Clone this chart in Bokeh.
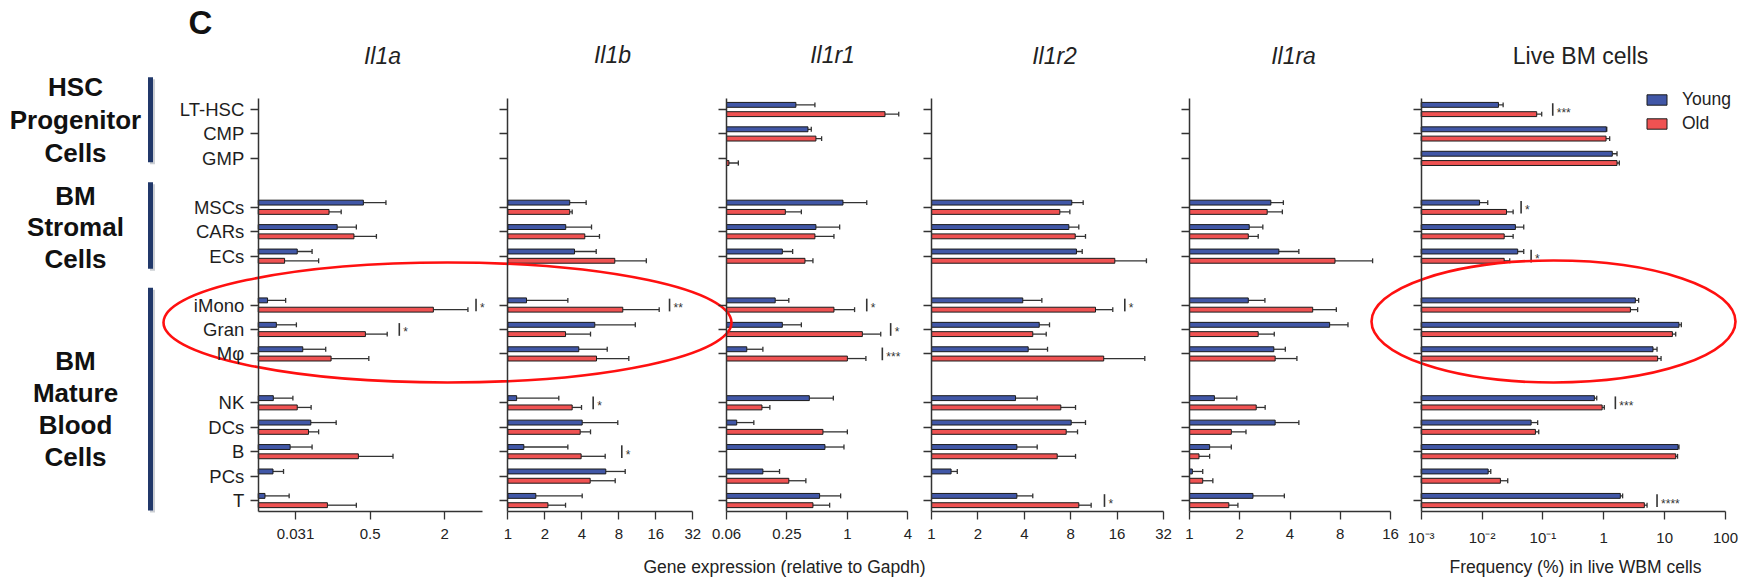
import math
from bokeh.plotting import figure
from bokeh.models import (Range1d, LogScale, LogAxis, LinearAxis, FixedTicker,
                          ColumnDataSource, Legend, LegendItem)
from bokeh.core.properties import value
from bokeh.embed import file_html
from bokeh.resources import INLINE

# ---------------------------------------------------------------- data
categories = ["LT-HSC", "CMP", "GMP", "MSCs", "CARs", "ECs",
              "iMono", "Gran", "Mφ", "NK", "DCs", "B", "PCs", "T"]
category_group = [0, 0, 0, 1, 1, 1, 2, 2, 2, 3, 3, 3, 3, 3]
group_labels = [["HSC", "Progenitor", "Cells"],
                ["BM", "Stromal", "Cells"],
                ["BM", "Mature", "Blood", "Cells"]]
series_names = ["Young", "Old"]
N = None

il1a_young = [N, N, N, 0.441, 0.271, 0.129, 0.0743, 0.0875, 0.143, 0.0827, 0.166, 0.113, 0.0822, 0.0708]
il1a_young_err = [N, N, N, 0.671, 0.387, 0.170, 0.104, 0.127, 0.219, 0.119, 0.266, 0.170, 0.100, 0.111]
il1a_old = [N, N, N, 0.233, 0.370, 0.102, 1.62, 0.458, 0.242, 0.129, 0.159, 0.402, N, 0.226]
il1a_old_err = [N, N, N, 0.292, 0.562, 0.192, 3.08, 0.687, 0.488, 0.167, 0.192, 0.765, N, 0.387]
il1a_sig = [("iMono", "*", 3.58), ("Gran", "*", 0.86)]

il1b_young = [N, N, N, 3.19, 2.96, 3.49, 1.42, 5.1, 3.78, 1.18, 4.03, 1.35, 6.27, 1.69]
il1b_young_err = [N, N, N, 4.34, 4.8, 5.24, 3.08, 10.9, 6.44, 2.6, 7.85, 3.08, 9.02, 4.03]
il1b_old = [N, N, N, 3.19, 4.23, 7.42, 8.62, 2.95, 5.27, 3.34, 3.88, 3.95, 4.68, 2.12]
il1b_old_err = [N, N, N, 3.34, 5.57, 13.4, 17.05, 4.71, 9.65, 3.98, 4.71, 6.2, 7.48, 2.95]
il1b_sig = [("iMono", "**", 20.7), ("NK", "*", 4.95), ("B", "*", 8.46)]

il1r1_young = [0.307, 0.405, N, 0.904, 0.486, 0.225, 0.191, 0.225, 0.0995, 0.418, 0.079, 0.598, 0.144, 0.529]
il1r1_young_err = [0.475, 0.437, N, 1.56, 0.838, 0.285, 0.261, 0.348, 0.144, 0.725, 0.117, 0.925, 0.211, 0.857]
il1r1_old = [2.37, 0.486, 0.066, 0.241, 0.475, 0.378, 0.735, 1.41, 1.0, 0.141, 0.571, N, 0.261, 0.454]
il1r1_old_err = [3.25, 0.554, 0.082, 0.348, 0.735, 0.454, 1.18, 2.15, 1.53, 0.169, 1.0, N, 0.386, 0.666]
il1r1_sig = [("iMono", "*", 1.56), ("Gran", "*", 2.70), ("Mφ", "***", 2.23)]

il1r2_young = [N, N, N, 8.13, 7.78, 8.72, 3.91, 5.0, 4.24, 3.51, 8.06, 3.58, 1.34, 3.58]
il1r2_young_err = [N, N, N, 9.64, 9.03, 9.5, 5.2, 5.83, 5.66, 4.85, 9.98, 4.85, 1.47, 4.54]
il1r2_old = [N, N, N, 6.8, 8.56, 15.46, 11.59, 4.54, 13.1, 6.9, 7.48, 6.54, N, 9.03]
il1r2_old_err = [N, N, N, 7.9, 9.98, 24.8, 15.0, 5.55, 24.2, 8.6, 8.86, 8.6, N, 10.86]
il1r2_sig = [("iMono", "*", 17.95), ("T", "*", 13.25)]

il1ra_young = [N, N, N, 3.07, 2.28, 3.43, 2.25, 6.91, 3.2, 1.41, 3.26, 1.32, 1.04, 2.4]
il1ra_young_err = [N, N, N, 3.65, 2.75, 4.52, 2.83, 8.9, 3.75, 1.92, 4.52, 1.78, 1.2, 3.7]
il1ra_old = [N, N, N, 2.92, 2.25, 7.44, 5.47, 2.58, 3.26, 2.51, 1.78, 1.14, 1.2, 1.72]
il1ra_old_err = [N, N, N, 3.6, 2.58, 12.5, 7.58, 3.22, 4.4, 2.84, 2.18, 1.32, 1.38, 1.95]
il1ra_sig = []

live_young = [0.0186, 1.1, 1.38, 0.0091, 0.0353, 0.0385, 3.3, 17.2, 6.44, 0.70, 0.064, 16.6, 0.0126, 1.87]
live_young_err = [0.0222, 1.12, 1.65, 0.0124, 0.0484, 0.0484, 3.74, 18.8, 7.5, 0.766, 0.082, 17.2, 0.0139, 2.04]
live_old = [0.079, 1.09, 1.65, 0.0252, 0.0231, 0.0231, 2.74, 13.4, 7.67, 0.94, 0.0753, 15.2, 0.02, 4.64]
live_old_err = [0.0955, 1.25, 1.8, 0.0324, 0.0324, 0.0285, 3.6, 15.2, 8.73, 1.02, 0.0853, 16.3, 0.0264, 5.14]
live_sig = [("LT-HSC", "***", 0.145), ("MSCs", "*", 0.0438), ("ECs", "*", 0.064),
            ("NK", "***", 1.55), ("T", "****", 7.5)]

il1a_ticks = [0.125, 0.5, 2.0]
il1a_tick_labels = ["0.031", "0.5", "2"]
il1b_ticks = [1, 2, 4, 8, 16, 32]
il1r1_ticks = [0.0625, 0.25, 1, 4]
il1r1_tick_labels = ["0.06", "0.25", "1", "4"]
il1r2_ticks = [1, 2, 4, 8, 16, 32]
il1ra_ticks = [1, 2, 4, 8, 16]
live_ticks = [0.001, 0.01, 0.1, 1, 10, 100]
live_tick_labels = ["10⁻³", "10⁻²", "10⁻¹", "1", "10", "100"]

panel_titles = ["Il1a", "Il1b", "Il1r1", "Il1r2", "Il1ra", "Live BM cells"]
axis_titles = ["Gene expression (relative to Gapdh)", "Frequency (%) in live WBM cells"]

panels = [
    dict(key="il1a", lo=0.0625, hi=4.0, ticks=il1a_ticks, labels=il1a_tick_labels,
         young=il1a_young, young_err=il1a_young_err, old=il1a_old, old_err=il1a_old_err, sig=il1a_sig),
    dict(key="il1b", lo=1.0, hi=32.0, ticks=il1b_ticks, labels=[str(t) for t in il1b_ticks],
         young=il1b_young, young_err=il1b_young_err, old=il1b_old, old_err=il1b_old_err, sig=il1b_sig),
    dict(key="il1r1", lo=0.0625, hi=4.0, ticks=il1r1_ticks, labels=il1r1_tick_labels,
         young=il1r1_young, young_err=il1r1_young_err, old=il1r1_old, old_err=il1r1_old_err, sig=il1r1_sig),
    dict(key="il1r2", lo=1.0, hi=32.0, ticks=il1r2_ticks, labels=[str(t) for t in il1r2_ticks],
         young=il1r2_young, young_err=il1r2_young_err, old=il1r2_old, old_err=il1r2_old_err, sig=il1r2_sig),
    dict(key="il1ra", lo=1.0, hi=16.0, ticks=il1ra_ticks, labels=[str(t) for t in il1ra_ticks],
         young=il1ra_young, young_err=il1ra_young_err, old=il1ra_old, old_err=il1ra_old_err, sig=il1ra_sig),
    dict(key="live", lo=0.001, hi=100.0, ticks=live_ticks, labels=live_tick_labels,
         young=live_young, young_err=live_young_err, old=live_old, old_err=live_old_err, sig=live_sig),
]

# ---------------------------------------------------------------- layout
W, H = 1748, 584
OX, OY = 0, 0                     # figure origin in window coordinates
ROW0_Y, ROW_DY = 109.0, 24.44     # window y of first category row, px per row
PANEL_PX = [(257.75, 481.5), (507.3, 692.3), (726.0, 907.3),
            (931.0, 1163.0), (1189.0, 1390.0), (1420.7, 1725.0)]
TITLE_XY = [(382, 55), (612, 54), (832, 54), (1054, 55), (1293, 55), (1580, 55)]
AXIS_TITLE_XY = [(784, 566), (1575, 566)]
FONT = "Liberation Sans"
YOUNG_C, OLD_C = "#4157A7", "#EF5252"
INK = "#333333"

# rows with gaps between groups
rows = []
r, prev = 0, None
for g in category_group:
    if prev is not None and g != prev:
        r += 1
    rows.append(r)
    r += 1
    prev = g
row_of = dict(zip(categories, rows))
row_top, row_bot = rows[0] - 0.45, rows[-1] + 0.45

y_top = (OY - ROW0_Y) / ROW_DY
y_bot = (OY + H - ROW0_Y) / ROW_DY

p = figure(width=W, height=H, output_backend="svg", toolbar_location=None,
           x_range=Range1d(OX, OX + W), y_range=Range1d(y_bot, y_top),
           x_axis_location=None, y_axis_location=None, min_border=0,
           outline_line_color=None)
p.grid.grid_line_color = None
p.background_fill_color = "white"

xr, xs = {}, {}
for pan, (x0, x1) in zip(panels, PANEL_PX):
    k = (math.log(pan["hi"]) - math.log(pan["lo"])) / (x1 - x0)
    start = math.exp(math.log(pan["lo"]) - (x0 - OX) * k)
    end = math.exp(math.log(pan["hi"]) + (OX + W - x1) * k)
    xr[pan["key"]] = Range1d(start, end)
    xs[pan["key"]] = LogScale()
p.extra_x_ranges = xr
p.extra_x_scales = xs
p.extra_y_ranges = {"px": Range1d(OY + H, OY)}

legend_renderers = {}
for i, (pan, (x0, x1)) in enumerate(zip(panels, PANEL_PX)):
    key = pan["key"]
    for sname, vals, errs, off, col in (("Young", pan["young"], pan["young_err"], -0.19, YOUNG_C),
                                        ("Old", pan["old"], pan["old_err"], 0.19, OLD_C)):
        ys, vs, es = [], [], []
        for c, v, e in zip(categories, vals, errs):
            if v is None:
                continue
            ys.append(row_of[c] + off)
            vs.append(v)
            es.append(e)
        src = ColumnDataSource(dict(y=ys, right=vs, left=[pan["lo"]] * len(vs), err=es,
                                    y0=[y - 0.1 for y in ys], y1=[y + 0.1 for y in ys]))
        p.segment(x0="right", y0="y", x1="err", y1="y", source=src, x_range_name=key,
                  line_color=INK, line_width=1.3)
        p.segment(x0="err", y0="y0", x1="err", y1="y1", source=src, x_range_name=key,
                  line_color=INK, line_width=1.3)
        rend = p.hbar(y="y", left="left", right="right", height=0.2, source=src, x_range_name=key,
                      fill_color=col, line_color="#1a1a1a", line_width=1)
        if i == 0:
            legend_renderers[sname] = rend
    # significance markers
    if pan["sig"]:
        sx = [s[2] for s in pan["sig"]]
        sy = [row_of[s[0]] for s in pan["sig"]]
        src = ColumnDataSource(dict(x=sx, y=sy, y0=[y - 0.26 for y in sy], y1=[y + 0.26 for y in sy],
                                    t=[s[1] for s in pan["sig"]]))
        p.segment(x0="x", y0="y0", x1="x", y1="y1", source=src, x_range_name=key,
                  line_color=INK, line_width=1.6)
        p.text(x="x", y="y", text="t", source=src, x_range_name=key, x_offset=4, y_offset=3,
               text_font=value(FONT), text_font_size="12px", text_color=INK,
               text_baseline="middle", text_align="left")

    # y axis (category ticks)
    yax = LinearAxis(fixed_location=x0, bounds=(row_top, row_bot),
                     ticker=FixedTicker(ticks=rows),
                     major_label_overrides={rr: (categories[j] if i == 0 else "") for j, rr in enumerate(rows)},
                     major_tick_out=8, major_tick_in=0, minor_tick_out=0, minor_tick_in=0,
                     axis_line_color=INK, axis_line_width=1.5, major_tick_line_color=INK,
                     major_tick_line_width=1.3, major_label_standoff=6,
                     major_label_text_font=FONT, major_label_text_font_size="18.5px",
                     major_label_text_color="#1e1e1e")
    p.add_layout(yax, "left")

    # x axis (log)
    xax = LogAxis(x_range_name=key, fixed_location=row_bot, bounds=(pan["lo"], pan["hi"]),
                  ticker=FixedTicker(ticks=pan["ticks"]),
                  major_label_overrides={t: l for t, l in zip(pan["ticks"], pan["labels"])},
                  major_tick_out=8, major_tick_in=0, minor_tick_out=0, minor_tick_in=0,
                  axis_line_color=INK, axis_line_width=1.5, major_tick_line_color=INK,
                  major_tick_line_width=1.3, major_label_standoff=9,
                  major_label_text_font=FONT, major_label_text_font_size="15px",
                  major_label_text_color="#222222")
    p.add_layout(xax, "below")

# panel titles
p.text(x=[xy[0] for xy in TITLE_XY[:5]], y=[xy[1] for xy in TITLE_XY[:5]], text=panel_titles[:5],
       y_range_name="px", text_font=value(FONT), text_font_size="23px", text_font_style="italic",
       text_align="center", text_baseline="middle", text_color="#222222")
p.text(x=[TITLE_XY[5][0]], y=[TITLE_XY[5][1]], text=[panel_titles[5]],
       y_range_name="px", text_font=value(FONT), text_font_size="23px",
       text_align="center", text_baseline="middle", text_color="#222222")
# axis titles
p.text(x=[xy[0] for xy in AXIS_TITLE_XY], y=[xy[1] for xy in AXIS_TITLE_XY], text=axis_titles,
       y_range_name="px", text_font=value(FONT), text_font_size="17.5px",
       text_align="center", text_baseline="middle", text_color="#222222")
# panel letter
p.text(x=[200], y=[22], text=["C"], y_range_name="px", text_font=value(FONT),
       text_font_size="33px", text_font_style="bold", text_align="center",
       text_baseline="middle", text_color="#111111")

# group labels and bars
GROUP_LINE_Y = [[86.7, 119.5, 152.0], [195.0, 226.7, 258.3], [360.0, 392.3, 424.3, 456.3]]
GROUP_BAR_Y = [(76.7, 161.7), (181.7, 268.3), (287.3, 510.0)]
gx, gy, gt = [], [], []
for lines, ys in zip(group_labels, GROUP_LINE_Y):
    for t, yy in zip(lines, ys):
        gx.append(75)
        gy.append(yy)
        gt.append(t)
p.text(x=gx, y=gy, text=gt, y_range_name="px", text_font=value(FONT), text_font_size="26px",
       text_font_style="bold", text_align="center", text_baseline="middle", text_color="#111111")
p.segment(x0=[152] * 3, x1=[152] * 3, y0=[b[0] + 2 for b in GROUP_BAR_Y], y1=[b[1] + 2 for b in GROUP_BAR_Y],
          y_range_name="px", line_color="#9aa0aa", line_alpha=0.5, line_width=5)
p.segment(x0=[150] * 3, x1=[150] * 3, y0=[b[0] for b in GROUP_BAR_Y], y1=[b[1] for b in GROUP_BAR_Y],
          y_range_name="px", line_color="#21386A", line_width=5)

# red ellipses
p.ellipse(x=[447, 1553], y=[322, 321], width=[568, 364], height=[120, 122],
          width_units="screen", height_units="screen", y_range_name="px",
          fill_color=None, line_color="#FF1010", line_width=2.6)

legend = Legend(items=[LegendItem(label=n, renderers=[legend_renderers[n]]) for n in series_names],
                location=(1644, 450), orientation="vertical", padding=0, margin=0, spacing=3,
                glyph_width=25, glyph_height=13, label_standoff=13, label_height=20,
                label_text_font=FONT, label_text_font_size="17.5px", label_text_color="#222222",
                border_line_color=None, background_fill_alpha=0)
p.add_layout(legend)

open("out.html", "w").write(file_html(p, INLINE))
